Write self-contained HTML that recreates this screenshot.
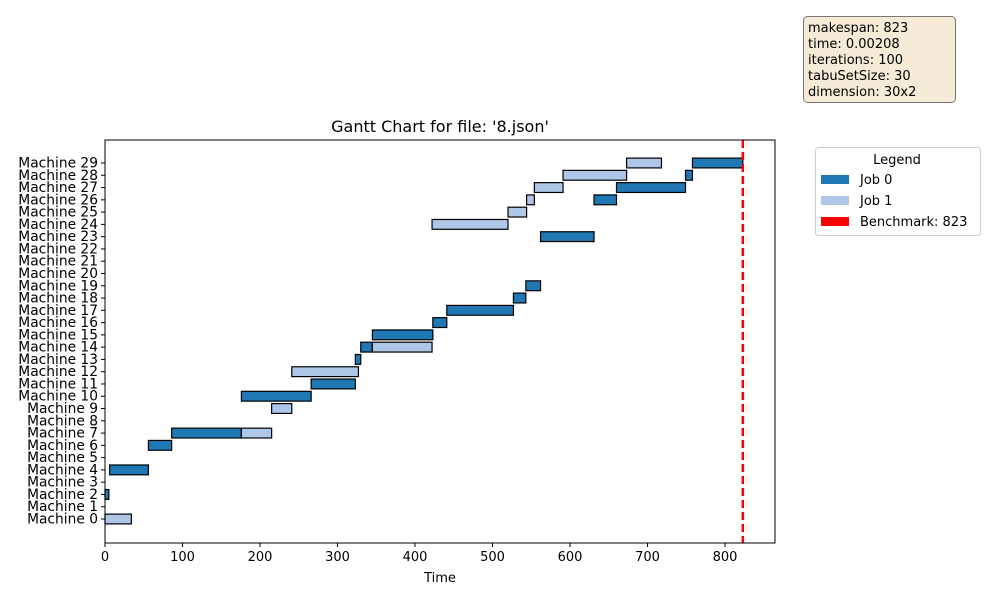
<!DOCTYPE html>
<html><head><meta charset="utf-8"><style>
body{margin:0;background:#fff}
svg text{font-family:"DejaVu Sans","Liberation Sans",sans-serif}
</style></head><body>
<svg id="chart" width="1000" height="600" xmlns="http://www.w3.org/2000/svg">
<rect width="1000" height="600" fill="#fff"/>
<text x="440" y="132" text-anchor="middle" font-size="16">Gantt Chart for file: '8.json'</text>
<g id="bars"></g>
<g id="axes"></g>
<g>
<rect x="803.5" y="16.5" width="152" height="86" rx="4" fill="#f6ebd6" stroke="#777" stroke-width="1"/>
<text x="808" y="32" font-size="13">makespan: 823</text>
<text x="808" y="48" font-size="13">time: 0.00208</text>
<text x="808" y="64" font-size="13">iterations: 100</text>
<text x="808" y="80" font-size="13">tabuSetSize: 30</text>
<text x="808" y="96" font-size="13">dimension: 30x2</text>
</g>
<g>
<rect x="815.5" y="147.5" width="165" height="88" rx="3" fill="#fff" stroke="#ccc"/>
<text x="897" y="164" text-anchor="middle" font-size="13">Legend</text>
<rect x="821" y="175" width="28" height="9" fill="#1f77b4"/>
<text x="860" y="184" font-size="13">Job 0</text>
<rect x="821" y="196" width="28" height="9" fill="#aec7e8"/>
<text x="860" y="205" font-size="13">Job 1</text>
<rect x="821" y="217" width="28" height="9" fill="#ff0000"/>
<text x="860" y="226" font-size="13">Benchmark: 823</text>
</g>
</svg>
<script>
const machines = Array.from({length:30},(_,i)=>i);
const taskMachine = [0,2,4,6,7,7,9,10,11,12,13,14,14,15,16,17,18,19,23,24,25,26,26,27,27,28,28,29,29];
const taskJob     = [1,0,0,0,0,1,1,0,0,1,0,0,1,0,0,0,0,0,0,1,1,1,0,1,0,1,0,1,0];
const taskStart   = [0,0,6,56,86,176,215,176,266,241,323,330,345,345,423,441,527,543,562,422,520,544,631,554,660,591,749,673,758];
const taskEnd     = [34,5,56,86,176,215,241,266,323,327,330,345,422,423,441,527,543,562,631,520,544,554,660,591,749,673,758,718,823];
const xTicks = [0,100,200,300,400,500,600,700,800];
const benchmark = [823];
const L=105,R=775,T=140,B=543,XMAX=864.5;
const x=v=>L+v*(R-L)/XMAX;
const y=m=>519-m*(519-163)/29;
const NS="http://www.w3.org/2000/svg";
const bars=document.getElementById('bars'), axes=document.getElementById('axes');
function mk(tag,attrs,parent){const e=document.createElementNS(NS,tag);for(const k in attrs)e.setAttribute(k,attrs[k]);parent.appendChild(e);return e;}
const colors=['#1f77b4','#aec7e8'];
const bh=(519-163)/29*0.8;
taskMachine.forEach((m,i)=>{
  const r=mk('rect',{x:x(taskStart[i]),y:y(m)-bh/2,width:x(taskEnd[i])-x(taskStart[i]),height:bh,fill:colors[taskJob[i]],stroke:'#000','stroke-width':1.2},bars);
  
  
});
const bl=mk('line',{x1:x(benchmark[0]),x2:x(benchmark[0]),y1:T,y2:B,stroke:'#ff0000','stroke-width':2.5,'stroke-dasharray':'8,4'},bars);


const fr=mk('rect',{x:L,y:T,width:R-L,height:B-T,fill:'none',stroke:'#000','stroke-width':1},axes);


xTicks.forEach(t=>{
  mk('line',{x1:x(t),x2:x(t),y1:B,y2:B+4,stroke:'#000'},axes);
  const tx=mk('text',{x:x(t),y:B+18,'text-anchor':'middle','font-size':13},axes);
  tx.textContent=t;
  
  
});
machines.forEach(m=>{
  mk('line',{x1:L-4,x2:L,y1:y(m),y2:y(m),stroke:'#000'},axes);
  const tx=mk('text',{x:L-7,y:y(m)+4.5,'text-anchor':'end','font-size':13.8},axes);
  tx.textContent='Machine '+m;
  
  
});
const xt=mk('text',{x:(L+R)/2,y:582,'text-anchor':'middle','font-size':13},axes);
xt.textContent='Time';


</script>
</body></html>
